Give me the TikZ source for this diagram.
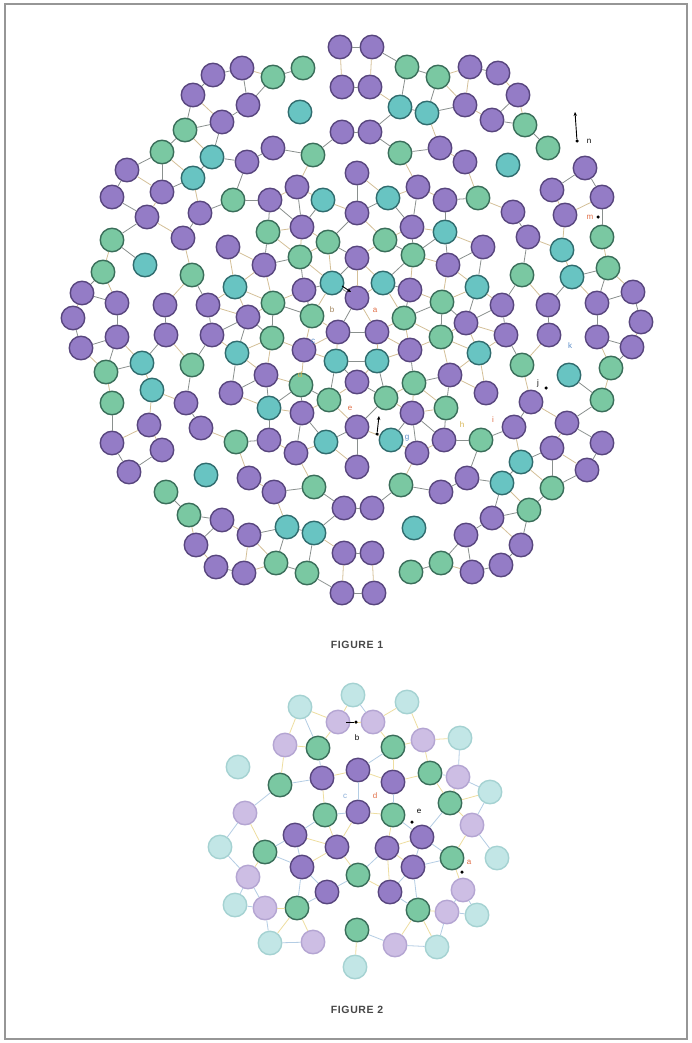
\documentclass[tikz,border=0pt]{standalone}
\usepackage{fontspec}
\setmainfont{Liberation Sans}
\usetikzlibrary{arrows.meta}
\definecolor{purF}{RGB}{148,124,198}
\definecolor{purL}{RGB}{88,70,126}
\definecolor{grnF}{RGB}{122,200,162}
\definecolor{grnL}{RGB}{58,110,90}
\definecolor{cyaF}{RGB}{104,196,194}
\definecolor{cyaL}{RGB}{48,108,110}
\definecolor{fpuF}{RGB}{205,190,228}
\definecolor{fpuL}{RGB}{180,165,210}
\definecolor{fcyF}{RGB}{194,230,230}
\definecolor{fcyL}{RGB}{165,210,210}
\definecolor{thrGray}{RGB}{138,144,142}
\definecolor{thrTan}{RGB}{212,192,152}
\definecolor{thrYel}{RGB}{238,222,160}
\definecolor{thrBlu}{RGB}{180,205,228}
\definecolor{labO}{RGB}{225,110,70}
\definecolor{labB}{RGB}{90,140,200}
\definecolor{labY}{RGB}{215,180,80}
\definecolor{labT}{RGB}{160,130,90}
\definecolor{frameC}{RGB}{150,150,150}
\tikzset{
 beadbase/.style={circle, minimum size=23.5pt, inner sep=0pt, line width=1.4pt},
 beadP/.style={beadbase, fill=purF, draw=purL},
 beadG/.style={beadbase, fill=grnF, draw=grnL},
 beadC/.style={beadbase, fill=cyaF, draw=cyaL},
 beadQ/.style={beadbase, fill=fpuF, draw=fpuL},
 beadD/.style={beadbase, fill=fcyF, draw=fcyL},
 thrA/.style={draw=thrGray, line width=0.8pt},
 thrB/.style={draw=thrTan, line width=0.8pt},
 thrC/.style={draw=thrYel, line width=0.8pt},
 thrD/.style={draw=thrBlu, line width=0.8pt},
 lab/.style={font=\fontsize{8}{8}\selectfont, inner sep=0.5pt, text=black},
 dotn/.style={circle, fill=black, minimum size=3.5pt, inner sep=0pt},
 blk/.style={draw=black, line width=0.9pt, -{Stealth[length=4pt,width=3.5pt]}},
 figcap/.style={font=\fontsize{10.5}{10.5}\selectfont\bfseries\addfontfeatures{LetterSpace=6}, text=black!72, inner sep=1pt},
}
\newcount\bn
\newcount\ci
\newcount\cj
\def\addbead#1#2#3{%
  \global\advance\bn by 1
  \expandafter\xdef\csname bx\the\bn\endcsname{#2}%
  \expandafter\xdef\csname by\the\bn\endcsname{#3}%
  \edef\tmp{\noexpand\node[bead#1] (n\the\bn) at (#2,#3) {};}\tmp}
\def\checkpair{%
  \edef\dx{\the\numexpr\csname bx\the\cj\endcsname-\csname bx\the\ci\endcsname\relax}%
  \edef\dy{\the\numexpr\csname by\the\cj\endcsname-\csname by\the\ci\endcsname\relax}%
  \ifnum\numexpr\dx*\dx+\dy*\dy\relax<\thr\relax
    \ifodd\numexpr\ci+\cj\relax
      \edef\tmp{\noexpand\draw[\thA] (n\the\ci) -- (n\the\cj);}%
    \else
      \edef\tmp{\noexpand\draw[\thB] (n\the\ci) -- (n\the\cj);}%
    \fi
    \tmp
  \fi}
\def\alledges#1#2{%
  \ci=#1\relax
  \loop
    \cj=\ci \advance\cj by 1
    {\loop\ifnum\cj<\numexpr#2+1\relax \checkpair\advance\cj by 1 \repeat}%
    \advance\ci by 1
  \ifnum\ci<#2\relax\repeat}
\def\toplist{P/340/47,P/372/47,%
G/273/77,G/303/68,G/407/67,G/438/77,%
P/342/87,P/370/87,%
C/300/112,C/400/107,C/427/113,%
P/342/132,P/370/132,%
P/273/148,G/313/155,G/400/153,P/440/148,%
P/357/173,%
P/297/187,P/418/187,%
C/323/200,C/388/198,%
P/270/200,P/445/200,%
P/357/213,%
G/268/232,C/445/232,%
P/302/227,P/412/227,%
G/328/242,G/385/240,%
G/300/257,P/357/258,G/413/255,%
P/264/265,P/448/265,%
P/304/290,P/410/290,%
G/273/303,G/442/302,%
P/242/68,P/213/75,P/193/95,P/248/105,P/222/122,%
G/185/130,G/162/152,C/212/157,P/247/162,%
P/127/170,C/193/178,P/162/192,P/112/197,%
G/233/200,P/200/213,P/147/217,%
G/112/240,P/183/238,P/228/247,%
C/145/265,G/103/272,G/192/275,%
C/235/287,%
P/82/293,P/117/303,P/165/305,P/208/305,%
P/73/318,P/248/317,%
P/470/67,P/498/73,P/465/105,P/518/95,P/492/120,%
G/525/125,G/548/148,P/465/162,C/508/165,%
P/585/168,P/552/190,G/478/198,P/602/197,%
P/513/212,P/565/215,%
G/602/237,P/528/237,P/483/247,%
C/562/250,G/522/275,C/572/277,G/608/268,%
C/477/287,%
P/633/292,P/502/305,P/548/305,P/597/303}
\def\centerlist{P/357/298,P/338/332,P/377/332,C/332/283,C/383/283,C/336/361,C/377/361,G/312/316,G/404/318}
\def\figtwolist{Q/338/722,Q/373/722,Q/285/745,Q/423/740,Q/458/777,Q/245/813,Q/472/825,Q/248/877,Q/463/890,Q/265/908,Q/447/912,Q/313/942,Q/395/945,%
D/353/695,D/407/702,D/300/707,D/460/738,D/238/767,D/490/792,D/220/847,D/497/858,D/235/905,D/477/915,D/270/943,D/437/947,D/355/967,%
P/358/812,P/337/847,P/387/848,P/322/778,P/358/770,P/393/782,P/295/835,P/422/837,P/302/867,P/413/867,P/327/892,P/390/892,%
G/325/815,G/393/815,G/358/875,G/318/748,G/393/747,G/280/785,G/430/773,G/450/803,G/265/852,G/452/858,G/297/908,G/418/910,G/357/930}
\begin{document}
\begin{tikzpicture}[x=1pt,y=-1pt]
\useasboundingbox (0,0) rectangle (692,1043);
\fill[white] (0,0) rectangle (692,1043);
\draw[frameC, line width=1.5pt] (5,4) rectangle (687,1039);
% ---------- Figure 1 ----------
\foreach \qc/\qx/\qy in \toplist {\addbead{\qc}{\qx}{\qy}}
\foreach \qc/\qx/\qy in \toplist {\addbead{\qc}{\the\numexpr714-\qx\relax}{\the\numexpr640-\qy\relax}}
\foreach \qc/\qx/\qy in \centerlist {\addbead{\qc}{\qx}{\qy}}
\edef\nA{\the\bn}
\def\thr{1764}\def\thA{thrA}\def\thB{thrB}
\alledges{1}{\nA}
% ---------- Figure 2 ----------
\foreach \qc/\qx/\qy in \figtwolist {\addbead{\qc}{\qx}{\qy}}
\edef\nB{\the\bn}
\def\thr{2025}\def\thA{thrC}\def\thB{thrD}
\alledges{\numexpr\nA+1\relax}{\nB}
% ---------- labels Figure 1 ----------
\node[lab,text=labT] (l1b) at (332,310) {b};
\node[lab,text=labO] (l1a) at (375,310) {a};
\node[lab,text=labB] (l1c) at (313,341) {c};
\node[lab,text=labY] (l1d) at (300,375) {d};
\node[lab,text=labO] (l1e) at (350,408) {e};
\node[lab,text=labB] (l1g) at (407,438) {g};
\node[lab,text=labY] (l1h) at (462,425) {h};
\node[lab,text=labO] (l1i) at (493,420) {i};
\node[lab] (l1j) at (538,383) {j};
\node[lab,text=labB] (l1k) at (570,346) {k};
\node[lab,text=labO] (l1m) at (590,217) {m};
\node[lab] (l1n) at (589,141) {n};
\node[dotn] (dn) at (577,141) {};
\coordinate (tn) at (575,112);
\draw[blk] (dn) -- (tn);
\node[dotn] (df) at (377,434) {};
\coordinate (tf) at (379,416);
\draw[blk] (df) -- (tf);
\coordinate (sa) at (342,286);
\coordinate (ta) at (351,292);
\draw[blk] (sa) -- (ta);
\node[dotn] (dj) at (546,388) {};
\node[dotn] (dm) at (598,217) {};
% ---------- labels Figure 2 ----------
\coordinate (sb) at (346,722);
\node[dotn] (db) at (356,722) {};
\draw[draw=black, line width=0.9pt] (sb) -- (db);
\node[lab] (l2b) at (357,738) {b};
\node[lab,text=labB!70] (l2c) at (345,796) {c};
\node[lab,text=labO] (l2d) at (375,796) {d};
\node[dotn] (de) at (412,822) {};
\node[lab] (l2e) at (419,811) {e};
\node[dotn] (da) at (462,872) {};
\node[lab,text=labO] (l2a) at (469,862) {a};
% ---------- captions ----------
\node[figcap] (cap1) at (357,645) {FIGURE 1};
\node[figcap] (cap2) at (357,1010) {FIGURE 2};
\end{tikzpicture}
\end{document}
